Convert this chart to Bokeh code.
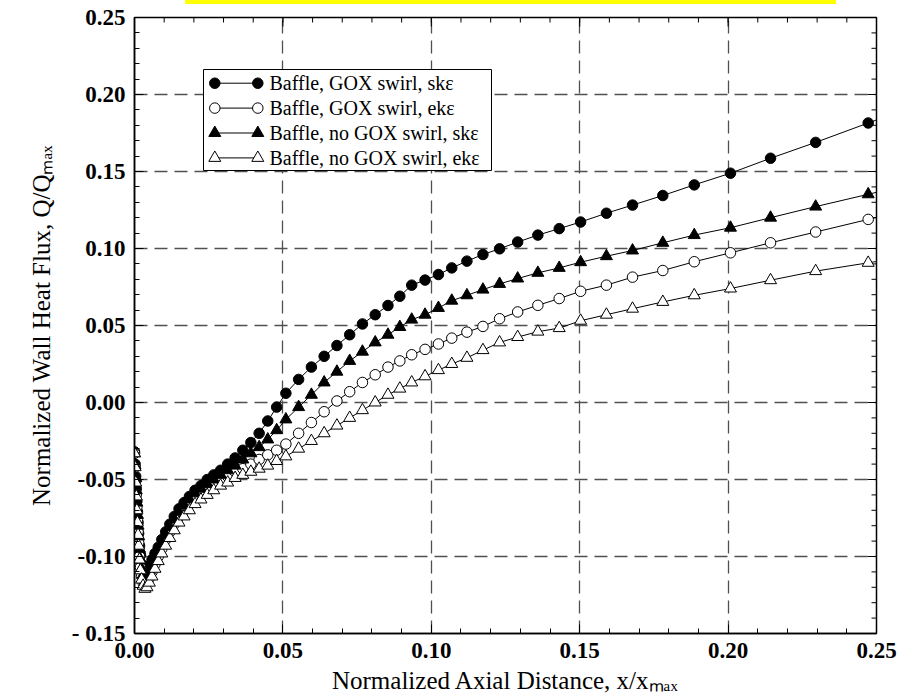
import math
from bokeh.plotting import figure
from bokeh.models import Range1d, LinearAxis, FixedTicker, Div, Grid, ColumnDataSource
from bokeh.layouts import column
from bokeh.embed import file_html
from bokeh.resources import INLINE
from bokeh.core.properties import value

# ---------------- data ----------------
x_pos = [0.0000, 0.0002, 0.0004, 0.0006, 0.0008, 0.0010, 0.0012, 0.0014, 0.0017, 0.0020,
         0.0024, 0.0029, 0.0035, 0.0042, 0.0050, 0.0059, 0.0069, 0.0080, 0.0092, 0.0105,
         0.0119, 0.0134, 0.0150, 0.0167, 0.0185, 0.0204, 0.0224, 0.0245, 0.0267, 0.0290,
         0.0314, 0.0339, 0.0365, 0.0392, 0.0420, 0.0449, 0.0479, 0.0510, 0.0553, 0.0596,
         0.0639, 0.0682, 0.0725, 0.0768, 0.0811, 0.0854, 0.0894,
         0.0934, 0.0979, 0.1024, 0.1069, 0.1120, 0.1174, 0.1230, 0.1291, 0.1359, 0.1431,
         0.1503, 0.1590, 0.1678, 0.1780, 0.1886, 0.2008, 0.2143, 0.2295, 0.2472, 0.2665]

q_sk_gox = [-0.032, -0.040, -0.048, -0.056, -0.064, -0.071, -0.078, -0.085, -0.093, -0.099,
            -0.105, -0.109, -0.110, -0.109, -0.106, -0.102, -0.098, -0.094, -0.089, -0.084,
            -0.079, -0.074, -0.069, -0.065, -0.061, -0.057, -0.054, -0.050, -0.047, -0.044,
            -0.040, -0.036, -0.031, -0.026, -0.020, -0.012, -0.003, 0.006, 0.015, 0.023,
            0.030, 0.037, 0.044, 0.051, 0.057, 0.063, 0.069,
            0.0762, 0.0795, 0.0831, 0.0874, 0.0918, 0.0961, 0.0998, 0.1042, 0.1087, 0.1129,
            0.1172, 0.1229, 0.1282, 0.1344, 0.1413, 0.1489, 0.1586, 0.1689, 0.1815, 0.1952]

q_ek_gox = [-0.033, -0.042, -0.051, -0.060, -0.068, -0.076, -0.084, -0.091, -0.100, -0.107,
            -0.113, -0.117, -0.118, -0.117, -0.114, -0.110, -0.105, -0.100, -0.095, -0.089,
            -0.084, -0.079, -0.074, -0.070, -0.066, -0.062, -0.059, -0.056, -0.053, -0.050,
            -0.048, -0.045, -0.043, -0.040, -0.037, -0.034, -0.031, -0.027, -0.020, -0.013,
            -0.006, 0.001, 0.007, 0.013, 0.018, 0.023, 0.027,
            0.031, 0.0345, 0.038, 0.0418, 0.0457, 0.0494, 0.0544, 0.0588, 0.0631, 0.0675,
            0.0722, 0.0762, 0.0814, 0.0857, 0.0914, 0.0972, 0.1037, 0.1107, 0.1189, 0.1278]

q_sk_nogox = [-0.033, -0.041, -0.049, -0.057, -0.065, -0.073, -0.080, -0.087, -0.095, -0.102,
              -0.108, -0.112, -0.113, -0.112, -0.109, -0.105, -0.101, -0.096, -0.091, -0.086,
              -0.081, -0.076, -0.071, -0.067, -0.063, -0.059, -0.056, -0.053, -0.050, -0.047,
              -0.044, -0.041, -0.037, -0.033, -0.029, -0.024, -0.018, -0.011, -0.003, 0.005,
              0.013, 0.020, 0.027, 0.033, 0.039, 0.044, 0.049,
              0.0538, 0.0570, 0.0614, 0.0661, 0.0696, 0.0733, 0.0770, 0.0805, 0.0842, 0.0874,
              0.0911, 0.0950, 0.0987, 0.1037, 0.1087, 0.1135, 0.1200, 0.1272, 0.1352, 0.1439]

q_ek_nogox = [-0.033, -0.042, -0.052, -0.061, -0.070, -0.078, -0.086, -0.093, -0.102, -0.109,
              -0.115, -0.119, -0.121, -0.120, -0.117, -0.113, -0.108, -0.103, -0.098, -0.093,
              -0.088, -0.083, -0.078, -0.074, -0.070, -0.066, -0.063, -0.060, -0.057, -0.054,
              -0.052, -0.049, -0.047, -0.045, -0.043, -0.041, -0.038, -0.035, -0.030, -0.025,
              -0.020, -0.015, -0.010, -0.005, 0.000, 0.005, 0.009,
              0.013, 0.017, 0.021, 0.025, 0.029, 0.034, 0.039, 0.0425, 0.046, 0.0483,
              0.0531, 0.0570, 0.0609, 0.0653, 0.0696, 0.0740, 0.0794, 0.0853, 0.0907, 0.0966]

series_labels = ["Baffle, GOX swirl, sk\u03b5", "Baffle, GOX swirl, ek\u03b5",
                 "Baffle, no GOX swirl, sk\u03b5", "Baffle, no GOX swirl, ek\u03b5"]
series_values = [q_sk_gox, q_ek_gox, q_sk_nogox, q_ek_nogox]
series_markers = ["circle", "circle", "triangle", "triangle"]
series_fills = ["black", "white", "black", "white"]

x_ticks = [0.00, 0.05, 0.10, 0.15, 0.20, 0.25]
x_tick_labels = ["0.00", "0.05", "0.10", "0.15", "0.20", "0.25"]
y_ticks = [-0.15, -0.10, -0.05, 0.00, 0.05, 0.10, 0.15, 0.20, 0.25]
y_tick_labels = ["- 0.15", "-0.10", "-0.05", "0.00", "0.05", "0.10", "0.15", "0.20", "0.25"]
minor_x = [round(i * 0.01, 4) for i in range(0, 26)]
minor_y = [round(-0.15 + i * 0.01, 4) for i in range(0, 41)]
title_sub = "\u2098\u2090\u2093"  # subscript "max"
x_title = "Normalized Axial Distance, x/x" + title_sub
y_title = "Normalized Wall Heat Flux, Q/Q" + title_sub

# ---------------- layout ----------------
X0, X1 = 0.0, 0.25
Y0, Y1 = -0.15, 0.25
W, H = 900, 700
BL, BT, FW, FH = 134, 17, 742, 616
BR, BB = W - BL - FW, H - BT - FH
SERIF = "Liberation Serif"


def dxp(px):
    return X0 + (px - BL) * (X1 - X0) / FW


def dyp(py):
    return Y1 - (py - BT) * (Y1 - Y0) / FH


p = figure(width=W, height=H, x_range=Range1d(X0, X1), y_range=Range1d(Y0, Y1),
           x_axis_type=None, y_axis_type=None, output_backend="svg", toolbar_location=None,
           min_border_left=BL, min_border_right=BR, min_border_top=BT, min_border_bottom=BB)
p.outline_line_color = "black"
p.outline_line_width = 1.5
p.background_fill_color = "white"
p.border_fill_color = "white"


def make_axis(ticks, minor, labels, title, title_standoff, title_lh):
    ax = LinearAxis(ticker=FixedTicker(ticks=ticks, minor_ticks=minor))
    ax.axis_line_color = "black"
    ax.axis_line_width = 1.5
    ax.major_tick_in = 9
    ax.major_tick_out = 0
    ax.minor_tick_in = 5
    ax.minor_tick_out = 0
    ax.major_tick_line_color = "black"
    ax.minor_tick_line_color = "black"
    ax.major_label_text_font = SERIF
    ax.major_label_text_font_style = "bold"
    ax.major_label_text_font_size = "23px"
    ax.major_label_text_color = "black"
    ax.major_label_standoff = 9
    ax.major_label_overrides = {t: s for t, s in zip(ticks, labels)}
    ax.axis_label = title
    ax.axis_label_text_font = SERIF
    ax.axis_label_text_font_style = "normal"
    ax.axis_label_text_font_size = "25px"
    ax.axis_label_text_color = "black"
    ax.axis_label_standoff = title_standoff
    ax.axis_label_text_line_height = title_lh
    return ax


p.add_layout(make_axis(x_ticks, minor_x, x_tick_labels, x_title, 6, 0.8), "below")
p.add_layout(make_axis(y_ticks, minor_y, y_tick_labels, y_title, 14, 1.2), "left")

# mirrored inward ticks on the top and right edges
p.ray(x=minor_x, y=[Y1] * len(minor_x), length=5, length_units="screen", angle=-math.pi / 2,
      line_color="black", line_width=1)
p.ray(x=x_ticks, y=[Y1] * len(x_ticks), length=9, length_units="screen", angle=-math.pi / 2,
      line_color="black", line_width=1)
p.ray(x=[X1] * len(minor_y), y=minor_y, length=5, length_units="screen", angle=math.pi,
      line_color="black", line_width=1)
p.ray(x=[X1] * len(y_ticks), y=y_ticks, length=9, length_units="screen", angle=math.pi,
      line_color="black", line_width=1)

for dim, ticks in ((0, x_ticks[1:-1]), (1, y_ticks[1:-1])):
    g = Grid(dimension=dim, ticker=FixedTicker(ticks=ticks))
    g.grid_line_color = "#505050"
    g.grid_line_width = 1.3
    g.grid_line_dash = "13 7"
    p.add_layout(g)

# data series
for vals, mk, fc in zip(series_values, series_markers, series_fills):
    src = ColumnDataSource(dict(x=x_pos, y=vals))
    p.line("x", "y", source=src, line_color="black", line_width=1)
    p.scatter("x", "y", source=src, marker=mk, size=(10.5 if mk == "circle" else 12),
              fill_color=fc, line_color="black", line_width=1)

# legend (box with sample lines and markers at both ends)
leg_left, leg_right, leg_top, leg_bottom = 203, 491, 69, 170
row0, row_step = 82.7, 24.9
samp_l, samp_r, text_x = 214.3, 257.3, 269
p.quad(left=[dxp(leg_left)], right=[dxp(leg_right)], top=[dyp(leg_top)], bottom=[dyp(leg_bottom)],
       fill_color="white", line_color="black", line_width=1)
rows = [dyp(row0 + i * row_step) for i in range(len(series_labels))]
p.segment(x0=[dxp(samp_l)] * 4, y0=rows, x1=[dxp(samp_r)] * 4, y1=rows, line_color="black", line_width=1)
for i, (mk, fc) in enumerate(zip(series_markers, series_fills)):
    p.scatter([dxp(samp_l), dxp(samp_r)], [rows[i], rows[i]], marker=mk,
              size=(10.5 if mk == "circle" else 12), fill_color=fc, line_color="black", line_width=1)
p.text(x=[dxp(text_x)] * 4, y=rows, text=series_labels, text_baseline="middle", text_align="left",
       text_font=value(SERIF), text_font_size="20px", text_color="black")

band = Div(text='<div style="position:fixed;left:185px;top:0px;width:651px;height:4px;'
                'background:#ffff00;"></div>', width=0, height=0)

layout = column(p, band)
open("out.html", "w").write(file_html(layout, INLINE))
